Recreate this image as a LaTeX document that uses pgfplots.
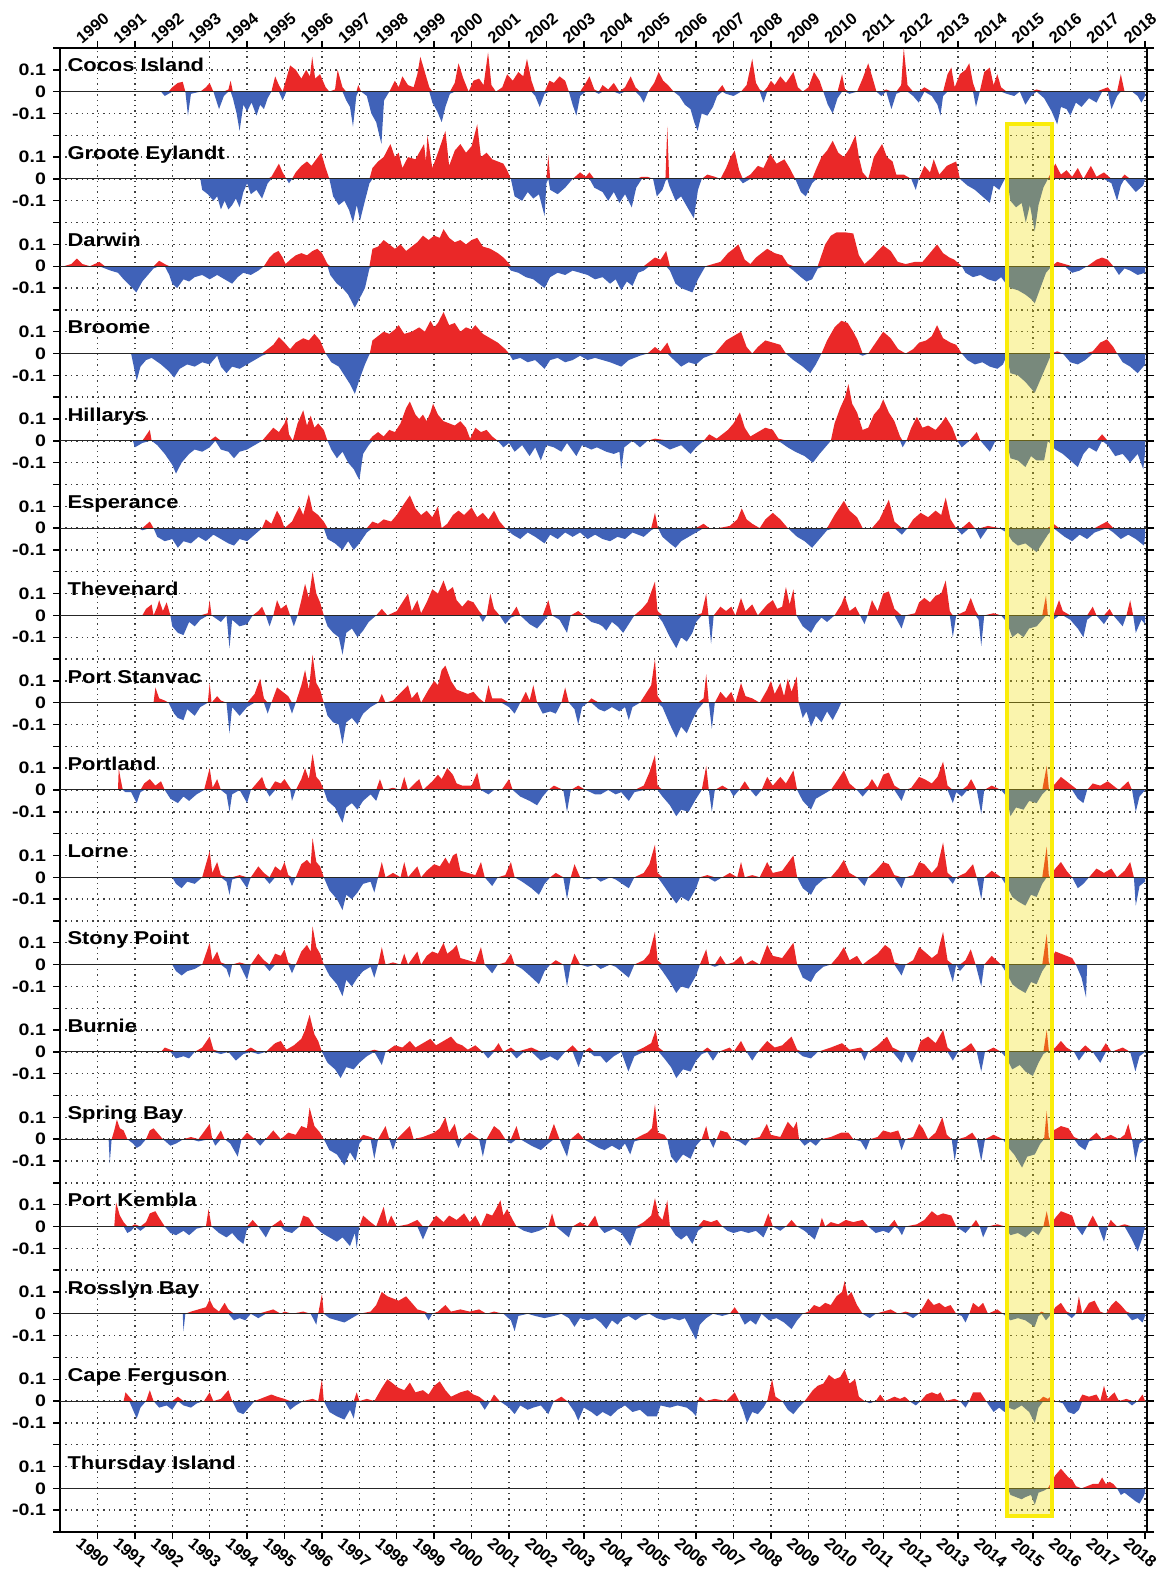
\documentclass[border=0pt]{standalone}
\usepackage{fontspec}
\setmainfont{Liberation Sans}[FakeStretch=1.18]
\newfontfamily\yearfont{Liberation Sans}
\usepackage{pgfplots}
\pgfplotsset{compat=1.18}

\definecolor{sred}{RGB}{234,40,40}
\definecolor{sblue}{RGB}{64,98,184}
\definecolor{boxfill}{RGB}{240,220,0}
\definecolor{boxedge}{RGB}{250,236,10}

% one station: #1 panel index (0 = top), #2 name, #3 name baseline, #4 data
\newcommand{\station}[4]{%
  \addplot[draw=none, fill=sred, yshift={-#1*43.647pt}, y filter/.expression={max(y,0)}] coordinates {#4} \closedcycle;
  \addplot[draw=none, fill=sblue, yshift={-#1*43.647pt}, y filter/.expression={min(y,0)}] coordinates {#4} \closedcycle;
  \addplot[black!85, line width=0.5pt, yshift={-#1*43.647pt}] coordinates {(1989,0) (2018.05,0)};
  \node[anchor=base west, inner sep=0pt, font=\bfseries\fontsize{9.3}{11}\selectfont] at (axis cs:1989.19,#3) {#2};
}

\begin{document}
\begin{tikzpicture}
\useasboundingbox (-30pt,-19pt) rectangle (549.5pt,766pt);
\begin{axis}[
  at={(0,0)}, anchor=south west,
  scale only axis, width=543.5pt, height=742pt,
  xmin=1989, xmax=2018.05, ymin=-6.6, ymax=0.2,
  xtick={1990,1991,...,2018},
  minor x tick num=3,
  ytick={-6.6,-6.5,-6.4,-6.3,-6.2,-6.1,-6.0,-5.9,-5.8,-5.7,-5.6,-5.5,-5.4,-5.3,-5.2,-5.1,-5.0,-4.9,-4.8,-4.7,-4.6,-4.5,-4.4,-4.3,-4.2,-4.1,-4.0,-3.9,-3.8,-3.7,-3.6,-3.5,-3.4,-3.3,-3.2,-3.1,-3.0,-2.9,-2.8,-2.7,-2.6,-2.5,-2.4,-2.3,-2.2,-2.1,-2.0,-1.9,-1.8,-1.7,-1.6,-1.5,-1.4,-1.3,-1.2,-1.1,-1.0,-0.9,-0.8,-0.7,-0.6,-0.5,-0.4,-0.3,-0.2,-0.1,0,0.1,0.2},
  yticklabels={{},-0.1,0,0.1,{},-0.1,0,0.1,{},-0.1,0,0.1,{},-0.1,0,0.1,{},-0.1,0,0.1,{},-0.1,0,0.1,{},-0.1,0,0.1,{},-0.1,0,0.1,{},-0.1,0,0.1,{},-0.1,0,0.1,{},-0.1,0,0.1,{},-0.1,0,0.1,{},-0.1,0,0.1,{},-0.1,0,0.1,{},-0.1,0,0.1,{},-0.1,0,0.1,{},-0.1,0,0.1,{}},
  tick align=outside,
  major tick length=3.5pt, minor tick length=2pt,
  every tick/.style={black, line width=0.7pt},
  axis line style={black, line width=1.2pt},
  xmajorgrids, ymajorgrids,
  major grid style={black!75, line width=0.7pt, dash pattern=on 0.7pt off 2pt},
  /pgf/number format/1000 sep={},
  /pgf/number format/assume math mode=true,
  xticklabel style={font=\yearfont\bfseries\fontsize{8.2}{9}\selectfont, inner sep=0.5pt, anchor=center, xshift=-2.4pt, yshift=-6.8pt, rotate=-40},
  yticklabel style={font=\bfseries\fontsize{8.3}{9}\selectfont},
]
\station{0}{Cocos Island}{0.09}{(1991.7,0)(1991.8,-0.02)(1991.9,-0.01)(1992.0,0.02)(1992.15,0.04)(1992.28,0.045)(1992.35,0.0)(1992.42,-0.11)(1992.5,-0.01)(1992.75,0.0)(1992.9,0.02)(1993.0,0.04)(1993.1,0.0)(1993.25,-0.08)(1993.38,-0.02)(1993.5,0.01)(1993.56,0.05)(1993.62,-0.03)(1993.72,-0.1)(1993.8,-0.18)(1993.9,-0.06)(1994.0,-0.09)(1994.12,-0.05)(1994.25,-0.11)(1994.35,-0.06)(1994.45,-0.08)(1994.55,-0.03)(1994.65,0.0)(1994.75,0.07)(1994.85,0.03)(1994.95,-0.04)(1995.05,0.06)(1995.15,0.12)(1995.3,0.1)(1995.45,0.06)(1995.58,0.1)(1995.68,0.07)(1995.74,0.16)(1995.82,0.06)(1995.95,0.08)(1996.1,0.02)(1996.2,0.0)(1996.35,0.01)(1996.42,0.1)(1996.55,0.02)(1996.65,-0.04)(1996.75,-0.07)(1996.83,-0.16)(1996.92,-0.02)(1996.97,0.03)(1997.05,0.0)(1997.2,-0.02)(1997.32,-0.1)(1997.45,-0.14)(1997.59,-0.24)(1997.66,-0.04)(1997.8,0.0)(1997.95,0.05)(1998.05,0.02)(1998.15,0.07)(1998.3,0.03)(1998.45,0.02)(1998.55,0.08)(1998.63,0.16)(1998.75,0.09)(1998.87,0.02)(1998.95,-0.05)(1999.08,-0.09)(1999.2,-0.14)(1999.3,-0.07)(1999.42,-0.01)(1999.55,0.04)(1999.65,0.13)(1999.78,0.06)(1999.92,0.0)(2000.05,0.05)(2000.2,0.06)(2000.32,0.03)(2000.44,0.18)(2000.53,0.03)(2000.65,0.0)(2000.82,0.02)(2000.95,0.08)(2001.1,0.05)(2001.25,0.09)(2001.38,0.07)(2001.48,0.15)(2001.6,0.05)(2001.7,-0.02)(2001.82,-0.07)(2001.95,-0.01)(2002.08,0.05)(2002.2,0.04)(2002.35,0.07)(2002.5,0.05)(2002.6,0.0)(2002.7,-0.06)(2002.8,-0.11)(2002.9,-0.02)(2003.05,0.04)(2003.15,0.07)(2003.28,0.01)(2003.4,-0.01)(2003.5,0.03)(2003.65,0.01)(2003.8,0.04)(2003.95,-0.01)(2004.1,0.02)(2004.25,0.07)(2004.38,0.02)(2004.5,-0.02)(2004.6,-0.05)(2004.72,0.0)(2004.88,0.04)(2005.0,0.09)(2005.12,0.05)(2005.25,0.03)(2005.4,0.0)(2005.55,-0.02)(2005.7,-0.06)(2005.85,-0.08)(2005.95,-0.14)(2006.04,-0.18)(2006.15,-0.1)(2006.3,-0.11)(2006.45,-0.07)(2006.56,-0.02)(2006.7,0.03)(2006.8,-0.01)(2007.0,-0.02)(2007.2,0.0)(2007.35,0.03)(2007.5,0.15)(2007.6,0.04)(2007.7,0.01)(2007.8,-0.05)(2007.9,0.02)(2008.0,0.05)(2008.1,0.03)(2008.25,0.07)(2008.4,0.04)(2008.6,0.09)(2008.72,0.02)(2008.85,0.0)(2009.0,0.02)(2009.15,0.09)(2009.3,0.05)(2009.4,0.0)(2009.52,-0.06)(2009.65,-0.1)(2009.78,-0.03)(2009.9,0.08)(2009.98,0.01)(2010.1,-0.01)(2010.3,0.0)(2010.45,0.06)(2010.6,0.13)(2010.72,0.06)(2010.82,0.0)(2010.95,-0.02)(2011.08,0.01)(2011.22,-0.08)(2011.35,-0.01)(2011.48,0.03)(2011.55,0.2)(2011.65,0.03)(2011.8,-0.02)(2011.95,-0.05)(2012.1,0.02)(2012.3,-0.02)(2012.45,-0.06)(2012.53,-0.11)(2012.6,-0.02)(2012.72,0.08)(2012.82,0.11)(2012.91,0.02)(2013.05,0.08)(2013.2,0.1)(2013.3,0.13)(2013.4,0.04)(2013.48,-0.07)(2013.58,0.0)(2013.7,0.09)(2013.85,0.11)(2013.95,0.03)(2014.05,0.08)(2014.15,0.02)(2014.3,-0.01)(2014.5,-0.02)(2014.65,0.0)(2014.8,-0.06)(2014.95,-0.02)(2015.1,0.01)(2015.3,-0.03)(2015.5,-0.09)(2015.65,-0.15)(2015.75,-0.07)(2015.9,-0.08)(2016.0,-0.11)(2016.15,-0.05)(2016.3,-0.07)(2016.5,-0.03)(2016.7,-0.05)(2016.85,0.01)(2017.0,0.02)(2017.1,-0.08)(2017.25,-0.02)(2017.35,0.08)(2017.45,0.0)(2017.65,0.0)(2017.8,-0.02)(2017.9,-0.05)(2018.0,-0.02)}
\station{1}{Groote Eylandt}{-0.31}{(1992.75,0)(1992.8,-0.05)(1992.95,-0.07)(1993.1,-0.1)(1993.2,-0.08)(1993.3,-0.14)(1993.4,-0.1)(1993.5,-0.14)(1993.6,-0.12)(1993.7,-0.09)(1993.8,-0.13)(1993.9,-0.06)(1994.0,-0.02)(1994.1,-0.07)(1994.25,-0.05)(1994.4,-0.09)(1994.55,-0.02)(1994.65,0.01)(1994.75,0.04)(1994.85,0.07)(1994.95,0.03)(1995.05,0.0)(1995.12,-0.02)(1995.2,0.0)(1995.3,0.03)(1995.45,0.06)(1995.6,0.08)(1995.72,0.06)(1995.85,0.09)(1995.98,0.12)(1996.1,0.05)(1996.2,0.0)(1996.3,-0.08)(1996.45,-0.12)(1996.6,-0.1)(1996.72,-0.14)(1996.83,-0.2)(1996.93,-0.12)(1997.02,-0.19)(1997.15,-0.1)(1997.27,-0.02)(1997.35,0.05)(1997.5,0.08)(1997.65,0.1)(1997.83,0.16)(1997.95,0.1)(1998.05,0.12)(1998.15,0.05)(1998.3,0.1)(1998.5,0.09)(1998.73,0.16)(1998.78,0.08)(1998.82,0.2)(1998.95,0.05)(1999.1,0.12)(1999.3,0.22)(1999.4,0.06)(1999.55,0.13)(1999.7,0.16)(1999.85,0.12)(2000.0,0.15)(2000.15,0.25)(2000.25,0.1)(2000.4,0.12)(2000.55,0.09)(2000.7,0.08)(2000.85,0.07)(2000.95,0.04)(2001.05,0.0)(2001.15,-0.08)(2001.35,-0.1)(2001.5,-0.06)(2001.65,-0.09)(2001.8,-0.07)(2001.95,-0.17)(2002.0,-0.02)(2002.05,0.11)(2002.1,-0.05)(2002.3,-0.07)(2002.5,-0.04)(2002.7,0.0)(2002.9,0.03)(2003.05,0.01)(2003.15,0.03)(2003.28,-0.04)(2003.5,-0.06)(2003.65,-0.1)(2003.8,-0.06)(2003.95,-0.11)(2004.1,-0.07)(2004.28,-0.13)(2004.4,-0.04)(2004.55,0.01)(2004.7,0.01)(2004.85,0.0)(2004.95,-0.08)(2005.1,-0.05)(2005.18,-0.01)(2005.23,0.24)(2005.28,-0.03)(2005.45,-0.1)(2005.6,-0.08)(2005.8,-0.14)(2005.94,-0.18)(2006.05,-0.05)(2006.15,0.0)(2006.3,0.02)(2006.5,0.01)(2006.65,0.0)(2006.8,0.05)(2006.92,0.1)(2007.03,0.13)(2007.15,0.04)(2007.25,-0.02)(2007.45,0.02)(2007.65,0.06)(2007.8,0.05)(2007.98,0.115)(2008.15,0.07)(2008.36,0.09)(2008.5,0.05)(2008.65,0.0)(2008.8,-0.06)(2008.93,-0.08)(2009.1,-0.02)(2009.22,0.05)(2009.35,0.1)(2009.5,0.13)(2009.65,0.175)(2009.8,0.12)(2009.95,0.1)(2010.1,0.14)(2010.26,0.2)(2010.35,0.1)(2010.45,0.03)(2010.6,0.0)(2010.75,0.1)(2010.97,0.16)(2011.1,0.1)(2011.25,0.08)(2011.35,0.02)(2011.55,0.02)(2011.75,0.0)(2011.87,-0.05)(2011.95,0.0)(2012.1,0.06)(2012.25,0.03)(2012.35,0.09)(2012.5,0.02)(2012.7,0.06)(2012.95,0.08)(2013.05,0.0)(2013.25,-0.03)(2013.45,-0.05)(2013.65,-0.08)(2013.85,-0.11)(2013.95,-0.03)(2014.1,-0.05)(2014.25,0.0)(2014.33,-0.02)(2014.4,-0.1)(2014.55,-0.13)(2014.7,-0.11)(2014.81,-0.2)(2014.92,-0.12)(2015.05,-0.24)(2015.15,-0.12)(2015.28,-0.04)(2015.4,0.0)(2015.6,0.07)(2015.75,0.02)(2015.9,0.04)(2016.05,0.01)(2016.2,0.05)(2016.35,0.0)(2016.55,0.06)(2016.7,0.01)(2016.9,0.03)(2017.1,-0.02)(2017.25,-0.1)(2017.35,-0.03)(2017.45,0.02)(2017.6,-0.03)(2017.75,-0.06)(2017.95,-0.03)(2018.0,0.0)}
\station{2}{Darwin}{-0.71}{(1989.1,0)(1989.3,0.01)(1989.45,0.035)(1989.6,0.01)(1989.8,0.0)(1990.05,0.02)(1990.2,-0.01)(1990.35,-0.02)(1990.55,-0.03)(1990.7,-0.06)(1990.88,-0.09)(1991.04,-0.12)(1991.2,-0.07)(1991.35,-0.04)(1991.5,-0.01)(1991.65,0.025)(1991.8,0.01)(1991.92,-0.04)(1992.0,-0.08)(1992.13,-0.1)(1992.3,-0.06)(1992.45,-0.07)(1992.6,-0.05)(1992.8,-0.04)(1993.0,-0.06)(1993.2,-0.04)(1993.4,-0.06)(1993.6,-0.08)(1993.75,-0.05)(1993.9,-0.03)(1994.1,-0.04)(1994.3,-0.02)(1994.45,0.0)(1994.6,0.04)(1994.72,0.06)(1994.84,0.07)(1994.95,0.04)(1995.03,0.01)(1995.15,0.03)(1995.3,0.05)(1995.45,0.06)(1995.6,0.05)(1995.75,0.07)(1995.88,0.08)(1996.0,0.06)(1996.15,0.01)(1996.22,-0.04)(1996.4,-0.08)(1996.55,-0.1)(1996.7,-0.13)(1996.88,-0.19)(1997.0,-0.15)(1997.15,-0.1)(1997.27,-0.01)(1997.35,0.08)(1997.5,0.09)(1997.65,0.12)(1997.8,0.1)(1997.95,0.08)(1998.1,0.1)(1998.25,0.07)(1998.4,0.09)(1998.55,0.11)(1998.7,0.14)(1998.85,0.12)(1999.0,0.14)(1999.15,0.13)(1999.25,0.17)(1999.4,0.13)(1999.55,0.11)(1999.7,0.12)(1999.85,0.1)(2000.0,0.12)(2000.15,0.13)(2000.3,0.09)(2000.5,0.08)(2000.7,0.06)(2000.85,0.04)(2000.96,0.02)(2001.05,-0.02)(2001.25,-0.03)(2001.45,-0.05)(2001.65,-0.06)(2001.8,-0.08)(2001.95,-0.1)(2002.1,-0.05)(2002.3,-0.03)(2002.5,-0.04)(2002.7,-0.02)(2002.9,-0.03)(2003.1,-0.04)(2003.3,-0.06)(2003.5,-0.05)(2003.7,-0.08)(2003.85,-0.06)(2004.0,-0.11)(2004.15,-0.07)(2004.3,-0.09)(2004.45,-0.03)(2004.6,-0.02)(2004.75,0.02)(2004.9,0.04)(2005.05,0.03)(2005.2,0.07)(2005.3,-0.02)(2005.45,-0.08)(2005.6,-0.1)(2005.75,-0.11)(2005.9,-0.12)(2006.05,-0.06)(2006.25,0.0)(2006.45,0.01)(2006.65,0.02)(2006.85,0.06)(2007.0,0.08)(2007.13,0.1)(2007.3,0.03)(2007.45,0.01)(2007.6,0.04)(2007.9,0.08)(2008.1,0.06)(2008.3,0.05)(2008.45,0.01)(2008.6,-0.02)(2008.8,-0.05)(2008.95,-0.07)(2009.1,-0.06)(2009.25,-0.01)(2009.45,0.1)(2009.6,0.14)(2009.75,0.155)(2010.0,0.155)(2010.2,0.15)(2010.35,0.05)(2010.5,0.01)(2010.7,0.04)(2010.85,0.07)(2011.0,0.095)(2011.2,0.07)(2011.39,0.02)(2011.6,0.01)(2011.85,0.02)(2012.05,0.02)(2012.2,0.05)(2012.44,0.1)(2012.6,0.06)(2012.77,0.04)(2012.9,0.03)(2013.1,0.0)(2013.2,-0.03)(2013.4,-0.05)(2013.6,-0.04)(2013.8,-0.06)(2014.0,-0.07)(2014.15,-0.05)(2014.28,-0.08)(2014.4,-0.1)(2014.6,-0.11)(2014.8,-0.13)(2014.95,-0.15)(2015.05,-0.17)(2015.2,-0.1)(2015.35,-0.03)(2015.5,0.0)(2015.65,0.02)(2015.85,0.01)(2016.05,-0.03)(2016.25,-0.02)(2016.45,0.0)(2016.7,0.03)(2016.85,0.04)(2017.0,0.03)(2017.15,0.0)(2017.3,-0.04)(2017.45,-0.01)(2017.6,-0.02)(2017.8,-0.04)(2018.0,-0.03)}
\station{3}{Broome}{-1.11}{(1990.9,0)(1991.05,-0.125)(1991.15,-0.06)(1991.3,-0.03)(1991.45,-0.02)(1991.7,-0.05)(1991.9,-0.08)(1992.05,-0.11)(1992.2,-0.07)(1992.4,-0.05)(1992.6,-0.06)(1992.8,-0.04)(1993.0,-0.05)(1993.2,-0.01)(1993.3,-0.06)(1993.45,-0.09)(1993.6,-0.06)(1993.8,-0.07)(1994.0,-0.05)(1994.2,-0.03)(1994.4,-0.01)(1994.55,0.02)(1994.7,0.04)(1994.85,0.075)(1995.0,0.05)(1995.15,0.02)(1995.3,0.05)(1995.5,0.07)(1995.65,0.06)(1995.8,0.09)(1995.95,0.06)(1996.1,0.0)(1996.25,-0.04)(1996.45,-0.06)(1996.6,-0.1)(1996.75,-0.14)(1996.88,-0.185)(1997.0,-0.12)(1997.15,-0.05)(1997.28,0.0)(1997.35,0.06)(1997.5,0.08)(1997.65,0.1)(1997.8,0.09)(1997.95,0.11)(1998.05,0.13)(1998.2,0.09)(1998.4,0.1)(1998.6,0.12)(1998.75,0.1)(1998.9,0.15)(1999.0,0.12)(1999.1,0.14)(1999.25,0.19)(1999.4,0.13)(1999.55,0.14)(1999.7,0.1)(1999.85,0.12)(2000.0,0.11)(2000.1,0.13)(2000.3,0.09)(2000.5,0.07)(2000.7,0.05)(2000.9,0.02)(2001.0,0.0)(2001.1,-0.03)(2001.3,-0.02)(2001.5,-0.04)(2001.7,-0.03)(2001.95,-0.07)(2002.1,-0.03)(2002.3,-0.02)(2002.5,-0.04)(2002.7,-0.03)(2002.9,-0.01)(2003.1,-0.03)(2003.3,-0.02)(2003.5,-0.03)(2003.7,-0.04)(2004.0,-0.06)(2004.2,-0.03)(2004.5,-0.01)(2004.7,0.0)(2004.9,0.03)(2005.05,0.01)(2005.23,0.05)(2005.35,-0.02)(2005.6,-0.06)(2005.8,-0.04)(2006.0,-0.05)(2006.2,-0.02)(2006.5,0.0)(2006.8,0.06)(2007.0,0.08)(2007.2,0.1)(2007.35,0.03)(2007.5,0.0)(2007.65,0.03)(2007.85,0.06)(2008.05,0.05)(2008.25,0.04)(2008.4,0.0)(2008.6,-0.03)(2008.85,-0.06)(2009.05,-0.09)(2009.2,-0.05)(2009.35,0.0)(2009.5,0.06)(2009.7,0.12)(2009.88,0.15)(2010.05,0.14)(2010.2,0.1)(2010.32,0.06)(2010.45,-0.01)(2010.6,0.0)(2010.8,0.05)(2011.0,0.1)(2011.2,0.07)(2011.4,0.02)(2011.6,0.0)(2011.8,0.02)(2011.96,0.05)(2012.15,0.06)(2012.3,0.08)(2012.44,0.13)(2012.6,0.07)(2012.8,0.05)(2012.95,0.04)(2013.1,0.0)(2013.25,-0.03)(2013.45,-0.05)(2013.65,-0.04)(2013.85,-0.06)(2014.05,-0.07)(2014.2,-0.05)(2014.3,-0.01)(2014.4,-0.09)(2014.6,-0.1)(2014.8,-0.13)(2015.05,-0.18)(2015.2,-0.12)(2015.35,-0.06)(2015.5,0.0)(2015.65,0.01)(2015.8,0.0)(2016.0,-0.04)(2016.2,-0.05)(2016.4,-0.03)(2016.6,0.01)(2016.8,0.05)(2016.98,0.065)(2017.15,0.03)(2017.25,0.0)(2017.4,-0.04)(2017.6,-0.06)(2017.8,-0.09)(2018.0,-0.05)}
\station{4}{Hillarys}{-1.51}{(1990.95,0)(1991.0,-0.03)(1991.2,-0.01)(1991.4,0.05)(1991.45,0.0)(1991.6,-0.02)(1991.8,-0.06)(1992.0,-0.11)(1992.1,-0.15)(1992.25,-0.1)(1992.45,-0.06)(1992.6,-0.04)(1992.8,-0.05)(1993.0,-0.03)(1993.15,0.02)(1993.3,-0.04)(1993.5,-0.05)(1993.65,-0.08)(1993.8,-0.05)(1994.0,-0.04)(1994.2,-0.02)(1994.4,0.0)(1994.55,0.03)(1994.7,0.06)(1994.85,0.04)(1995.0,0.08)(1995.06,0.11)(1995.12,0.03)(1995.22,0.0)(1995.35,0.08)(1995.5,0.14)(1995.6,0.07)(1995.7,0.115)(1995.8,0.06)(1995.9,0.08)(1996.05,0.05)(1996.15,0.0)(1996.25,-0.04)(1996.4,-0.08)(1996.55,-0.05)(1996.7,-0.1)(1996.85,-0.13)(1997.0,-0.18)(1997.1,-0.06)(1997.25,-0.02)(1997.35,0.02)(1997.5,0.04)(1997.65,0.02)(1997.8,0.05)(1997.95,0.04)(1998.1,0.08)(1998.25,0.15)(1998.35,0.18)(1998.5,0.12)(1998.6,0.1)(1998.7,0.12)(1998.8,0.09)(1998.9,0.13)(1998.97,0.17)(1999.1,0.12)(1999.25,0.09)(1999.4,0.08)(1999.55,0.07)(1999.7,0.09)(1999.85,0.06)(1999.96,0.01)(2000.1,0.06)(2000.25,0.04)(2000.4,0.05)(2000.55,0.02)(2000.7,0.0)(2000.85,-0.03)(2001.0,-0.01)(2001.15,-0.05)(2001.35,-0.02)(2001.55,-0.07)(2001.7,-0.03)(2001.85,-0.09)(2002.0,-0.02)(2002.2,-0.03)(2002.4,-0.05)(2002.55,-0.01)(2002.8,-0.07)(2002.95,-0.02)(2003.2,-0.04)(2003.35,-0.03)(2003.6,-0.05)(2003.8,-0.06)(2003.95,-0.05)(2004.0,-0.13)(2004.08,-0.03)(2004.3,0.0)(2004.5,-0.03)(2004.7,0.0)(2004.9,0.01)(2005.3,-0.04)(2005.6,-0.02)(2005.85,-0.06)(2006.0,-0.03)(2006.2,0.0)(2006.35,0.03)(2006.55,0.01)(2006.85,0.05)(2007.0,0.08)(2007.17,0.13)(2007.3,0.06)(2007.45,0.02)(2007.65,0.04)(2007.85,0.06)(2008.05,0.05)(2008.2,0.01)(2008.45,-0.03)(2008.65,-0.05)(2008.9,-0.07)(2009.12,-0.1)(2009.3,-0.06)(2009.5,-0.02)(2009.6,0.0)(2009.7,0.08)(2009.85,0.15)(2009.98,0.2)(2010.07,0.26)(2010.17,0.17)(2010.3,0.13)(2010.45,0.05)(2010.6,0.06)(2010.75,0.12)(2010.9,0.15)(2011.0,0.19)(2011.15,0.13)(2011.3,0.09)(2011.45,0.02)(2011.52,-0.03)(2011.62,0.0)(2011.75,0.06)(2011.9,0.11)(2012.05,0.06)(2012.2,0.07)(2012.4,0.05)(2012.55,0.08)(2012.67,0.11)(2012.85,0.06)(2012.98,0.0)(2013.1,-0.03)(2013.3,0.0)(2013.5,0.04)(2013.6,0.0)(2013.85,-0.05)(2014.0,0.0)(2014.3,0.0)(2014.4,-0.08)(2014.6,-0.09)(2014.8,-0.12)(2014.95,-0.07)(2015.1,-0.09)(2015.3,-0.09)(2015.4,0.0)(2015.6,-0.04)(2015.8,-0.06)(2016.0,-0.09)(2016.2,-0.12)(2016.35,-0.06)(2016.5,-0.03)(2016.7,-0.05)(2016.85,0.03)(2017.0,-0.02)(2017.2,-0.07)(2017.4,-0.06)(2017.6,-0.1)(2017.8,-0.06)(2017.95,-0.13)(2018.0,-0.05)}
\station{5}{Esperance}{-1.91}{(1991.1,0)(1991.2,-0.01)(1991.4,0.03)(1991.5,0.0)(1991.6,-0.04)(1991.8,-0.06)(1992.0,-0.05)(1992.15,-0.09)(1992.3,-0.06)(1992.5,-0.07)(1992.7,-0.04)(1992.9,-0.06)(1993.1,-0.03)(1993.3,-0.05)(1993.5,-0.07)(1993.65,-0.08)(1993.8,-0.05)(1994.0,-0.06)(1994.2,-0.03)(1994.4,0.0)(1994.5,0.04)(1994.65,0.02)(1994.8,0.08)(1994.9,0.05)(1995.0,0.0)(1995.2,0.03)(1995.4,0.1)(1995.5,0.06)(1995.65,0.155)(1995.75,0.08)(1995.9,0.06)(1996.05,0.03)(1996.15,-0.05)(1996.35,-0.07)(1996.55,-0.1)(1996.7,-0.06)(1996.85,-0.1)(1997.0,-0.07)(1997.2,-0.02)(1997.35,0.03)(1997.5,0.02)(1997.65,0.04)(1997.85,0.03)(1998.0,0.06)(1998.15,0.1)(1998.35,0.15)(1998.5,0.09)(1998.65,0.06)(1998.8,0.08)(1998.95,0.05)(1999.1,0.1)(1999.2,0.0)(1999.35,0.02)(1999.5,0.06)(1999.65,0.08)(1999.8,0.06)(2000.0,0.095)(2000.15,0.05)(2000.3,0.07)(2000.45,0.04)(2000.6,0.08)(2000.75,0.03)(2000.9,0.0)(2001.1,-0.03)(2001.3,-0.05)(2001.5,-0.02)(2001.7,-0.04)(2001.95,-0.07)(2002.1,-0.03)(2002.3,-0.05)(2002.5,-0.02)(2002.7,-0.04)(2002.9,-0.02)(2003.1,-0.05)(2003.3,-0.03)(2003.5,-0.05)(2003.7,-0.06)(2003.9,-0.04)(2004.1,-0.05)(2004.3,-0.02)(2004.6,-0.04)(2004.8,-0.01)(2004.9,0.07)(2004.98,0.0)(2005.1,-0.04)(2005.3,-0.07)(2005.45,-0.09)(2005.6,-0.06)(2005.8,-0.04)(2006.0,-0.02)(2006.2,0.02)(2006.35,0.0)(2006.6,0.0)(2006.9,0.01)(2007.1,0.04)(2007.22,0.09)(2007.35,0.04)(2007.5,0.02)(2007.7,0.0)(2007.85,0.04)(2008.05,0.07)(2008.25,0.04)(2008.45,0.0)(2008.7,-0.04)(2008.9,-0.06)(2009.1,-0.09)(2009.3,-0.05)(2009.5,-0.01)(2009.7,0.06)(2009.95,0.125)(2010.1,0.08)(2010.3,0.05)(2010.45,0.0)(2010.7,0.0)(2010.9,0.04)(2011.15,0.13)(2011.3,0.03)(2011.5,-0.03)(2011.65,0.0)(2011.8,0.04)(2012.0,0.07)(2012.2,0.05)(2012.4,0.08)(2012.55,0.06)(2012.67,0.14)(2012.8,0.04)(2012.95,0.0)(2013.1,-0.03)(2013.3,0.03)(2013.45,0.0)(2013.6,-0.05)(2013.8,0.01)(2014.1,0.0)(2014.3,-0.02)(2014.45,-0.06)(2014.6,-0.08)(2014.8,-0.07)(2015.1,-0.11)(2015.25,-0.07)(2015.4,-0.03)(2015.55,0.02)(2015.7,-0.02)(2015.85,-0.04)(2016.05,-0.06)(2016.25,-0.03)(2016.45,-0.05)(2016.65,-0.02)(2016.98,0.03)(2017.15,-0.02)(2017.35,-0.05)(2017.55,-0.03)(2017.75,-0.05)(2017.97,-0.08)(2018.0,-0.03)}
\station{6}{Thevenard}{-2.31}{(1991.2,0)(1991.3,0.03)(1991.45,0.05)(1991.5,0.0)(1991.6,0.04)(1991.65,0.07)(1991.75,0.02)(1991.85,0.06)(1991.95,0.0)(1992.0,-0.05)(1992.15,-0.08)(1992.3,-0.09)(1992.45,-0.03)(1992.6,-0.05)(1992.75,-0.02)(1992.95,0.01)(1993.0,0.07)(1993.05,0.0)(1993.3,-0.03)(1993.45,0.0)(1993.53,-0.15)(1993.6,-0.02)(1993.8,-0.05)(1994.0,-0.04)(1994.15,0.0)(1994.3,0.02)(1994.4,0.04)(1994.5,0.0)(1994.6,-0.05)(1994.7,0.0)(1994.8,0.07)(1994.9,0.03)(1995.05,0.05)(1995.15,0.0)(1995.25,-0.05)(1995.35,0.0)(1995.45,0.07)(1995.55,0.145)(1995.65,0.08)(1995.75,0.2)(1995.85,0.1)(1995.95,0.06)(1996.05,0.0)(1996.15,-0.05)(1996.3,-0.08)(1996.45,-0.1)(1996.55,-0.18)(1996.65,-0.08)(1996.8,-0.06)(1996.95,-0.1)(1997.1,-0.07)(1997.25,-0.03)(1997.45,0.0)(1997.6,0.03)(1997.75,0.0)(1998.0,0.02)(1998.3,0.1)(1998.4,0.02)(1998.55,0.07)(1998.65,0.01)(1998.8,0.06)(1998.95,0.12)(1999.1,0.1)(1999.25,0.16)(1999.35,0.11)(1999.5,0.13)(1999.6,0.07)(1999.75,0.04)(1999.9,0.07)(2000.05,0.06)(2000.2,0.02)(2000.3,-0.03)(2000.4,0.0)(2000.5,0.1)(2000.6,0.03)(2000.75,0.0)(2000.9,-0.04)(2001.05,-0.01)(2001.2,0.04)(2001.3,0.0)(2001.55,-0.04)(2001.75,-0.06)(2001.9,-0.03)(2002.05,0.07)(2002.15,0.0)(2002.35,-0.02)(2002.55,-0.08)(2002.65,0.0)(2002.85,0.02)(2003.0,0.0)(2003.2,-0.03)(2003.4,-0.04)(2003.5,-0.05)(2003.6,-0.07)(2003.75,-0.03)(2003.9,-0.05)(2004.05,-0.08)(2004.2,-0.04)(2004.35,0.0)(2004.55,0.03)(2004.7,0.06)(2004.9,0.155)(2004.97,0.02)(2005.1,-0.03)(2005.3,-0.1)(2005.47,-0.15)(2005.6,-0.1)(2005.75,-0.12)(2005.9,-0.08)(2006.0,-0.03)(2006.15,0.01)(2006.27,0.1)(2006.33,0.0)(2006.4,-0.13)(2006.47,0.0)(2006.65,0.04)(2006.8,0.02)(2006.94,0.04)(2007.05,0.0)(2007.2,0.08)(2007.32,0.02)(2007.5,0.05)(2007.65,0.0)(2007.9,0.05)(2008.05,0.07)(2008.17,0.03)(2008.3,0.04)(2008.4,0.13)(2008.5,0.05)(2008.6,0.12)(2008.68,0.0)(2008.85,-0.05)(2009.07,-0.08)(2009.2,-0.04)(2009.35,-0.01)(2009.5,-0.03)(2009.7,0.0)(2009.88,0.05)(2009.97,0.09)(2010.1,0.02)(2010.26,0.04)(2010.38,0.0)(2010.5,-0.04)(2010.58,0.0)(2010.7,0.07)(2010.85,0.02)(2011.0,0.1)(2011.15,0.11)(2011.3,0.03)(2011.49,-0.06)(2011.6,0.0)(2011.85,0.01)(2011.96,0.06)(2012.1,0.08)(2012.25,0.06)(2012.4,0.09)(2012.55,0.1)(2012.67,0.16)(2012.78,0.02)(2012.86,-0.1)(2012.95,0.0)(2013.2,0.02)(2013.34,0.08)(2013.47,0.02)(2013.55,-0.02)(2013.62,-0.14)(2013.7,0.0)(2013.95,0.01)(2014.15,0.0)(2014.3,-0.03)(2014.45,-0.1)(2014.6,-0.08)(2014.75,-0.1)(2014.9,-0.06)(2015.1,-0.05)(2015.25,-0.02)(2015.35,0.09)(2015.4,0.0)(2015.55,-0.02)(2015.7,0.07)(2015.8,0.02)(2016.0,-0.02)(2016.2,-0.06)(2016.35,-0.1)(2016.45,-0.02)(2016.6,0.04)(2016.7,0.0)(2016.9,-0.04)(2017.05,0.03)(2017.15,0.0)(2017.4,-0.05)(2017.5,0.0)(2017.6,0.07)(2017.68,0.0)(2017.75,-0.08)(2017.9,-0.02)(2018.0,-0.04)}
\station{7}{Port Stanvac}{-2.71}{(1991.5,0)(1991.55,0.07)(1991.65,0.02)(1991.8,0.01)(1991.9,0.0)(1992.05,-0.05)(1992.15,-0.07)(1992.3,-0.08)(1992.4,-0.03)(1992.6,-0.06)(1992.75,-0.02)(1992.95,0.0)(1993.0,0.09)(1993.05,0.0)(1993.2,0.03)(1993.3,0.01)(1993.45,0.0)(1993.53,-0.14)(1993.6,-0.02)(1993.8,-0.06)(1994.0,-0.02)(1994.2,0.04)(1994.35,0.11)(1994.45,0.02)(1994.55,-0.05)(1994.65,0.0)(1994.8,0.07)(1994.95,0.05)(1995.1,0.03)(1995.2,-0.05)(1995.3,0.0)(1995.45,0.08)(1995.55,0.15)(1995.65,0.06)(1995.75,0.22)(1995.85,0.09)(1995.95,0.06)(1996.05,0.0)(1996.15,-0.06)(1996.3,-0.09)(1996.45,-0.1)(1996.55,-0.19)(1996.65,-0.09)(1996.8,-0.07)(1996.95,-0.1)(1997.1,-0.05)(1997.3,-0.02)(1997.5,0.0)(1997.6,0.04)(1997.7,0.0)(1997.9,0.01)(1998.3,0.08)(1998.4,0.02)(1998.55,0.05)(1998.65,0.0)(1998.85,0.06)(1999.0,0.1)(1999.1,0.08)(1999.2,0.15)(1999.3,0.17)(1999.45,0.1)(1999.6,0.06)(1999.75,0.05)(1999.9,0.04)(2000.05,0.05)(2000.2,0.02)(2000.35,0.0)(2000.45,0.08)(2000.55,0.02)(2000.8,0.02)(2001.0,-0.02)(2001.15,-0.05)(2001.3,0.0)(2001.45,0.05)(2001.55,0.01)(2001.65,0.08)(2001.75,0.0)(2001.9,-0.05)(2002.1,-0.04)(2002.25,-0.05)(2002.4,0.0)(2002.5,0.07)(2002.6,0.0)(2002.75,-0.03)(2002.85,-0.1)(2002.95,-0.02)(2003.1,0.0)(2003.2,0.02)(2003.4,-0.03)(2003.55,-0.04)(2003.75,-0.02)(2003.95,-0.04)(2004.1,-0.02)(2004.2,-0.08)(2004.3,-0.02)(2004.5,0.0)(2004.65,0.04)(2004.8,0.08)(2004.9,0.2)(2004.97,0.03)(2005.1,-0.02)(2005.3,-0.1)(2005.47,-0.16)(2005.6,-0.11)(2005.75,-0.14)(2005.9,-0.08)(2006.05,-0.03)(2006.2,0.02)(2006.27,0.13)(2006.34,0.0)(2006.42,-0.12)(2006.5,0.0)(2006.65,0.05)(2006.8,0.02)(2006.94,0.05)(2007.05,0.0)(2007.2,0.09)(2007.32,0.03)(2007.5,0.02)(2007.7,0.0)(2007.9,0.06)(2008.0,0.1)(2008.1,0.04)(2008.25,0.09)(2008.35,0.03)(2008.45,0.11)(2008.55,0.05)(2008.69,0.12)(2008.74,0.0)(2008.85,-0.07)(2008.95,-0.04)(2009.07,-0.11)(2009.2,-0.06)(2009.35,-0.09)(2009.5,-0.04)(2009.65,-0.08)(2009.8,-0.03)(2009.88,0.0)}
\station{8}{Portland}{-3.11}{(1990.55,0.0)(1990.57,0.1)(1990.62,0.05)(1990.68,0.0)(1990.75,-0.01)(1990.9,-0.01)(1991.05,-0.06)(1991.15,-0.01)(1991.25,0.03)(1991.4,0.05)(1991.55,0.02)(1991.7,0.04)(1991.8,0.0)(1991.95,-0.04)(1992.15,-0.06)(1992.3,-0.03)(1992.45,-0.05)(1992.65,-0.02)(1992.85,0.0)(1993.0,0.1)(1993.08,0.01)(1993.2,0.05)(1993.3,0.0)(1993.45,-0.02)(1993.53,-0.1)(1993.6,-0.02)(1993.8,0.0)(1994.0,-0.06)(1994.1,0.0)(1994.25,0.03)(1994.4,0.06)(1994.5,0.01)(1994.6,-0.03)(1994.75,0.04)(1994.9,0.03)(1995.0,0.05)(1995.15,0.01)(1995.2,-0.05)(1995.3,0.0)(1995.45,0.05)(1995.55,0.1)(1995.65,0.05)(1995.75,0.165)(1995.85,0.06)(1995.95,0.04)(1996.05,0.0)(1996.15,-0.05)(1996.35,-0.08)(1996.55,-0.15)(1996.65,-0.08)(1996.8,-0.06)(1996.95,-0.09)(1997.1,-0.05)(1997.3,-0.02)(1997.45,-0.05)(1997.55,0.05)(1997.65,0.0)(1997.9,0.01)(1998.1,0.0)(1998.2,0.06)(1998.3,0.0)(1998.6,0.05)(1998.7,0.0)(1998.95,0.04)(1999.1,0.07)(1999.2,0.05)(1999.35,0.1)(1999.5,0.07)(1999.6,0.03)(1999.75,0.02)(2000.0,0.02)(2000.15,0.08)(2000.25,0.0)(2000.45,-0.02)(2000.6,0.0)(2000.8,0.0)(2001.0,0.05)(2001.1,0.0)(2001.3,-0.03)(2001.55,-0.05)(2001.75,-0.07)(2001.9,-0.03)(2002.05,0.0)(2002.2,0.02)(2002.45,0.0)(2002.55,-0.1)(2002.65,0.0)(2002.85,0.02)(2003.05,0.0)(2003.3,-0.02)(2003.45,-0.02)(2003.65,0.0)(2003.85,-0.02)(2004.0,-0.01)(2004.2,-0.05)(2004.35,-0.01)(2004.6,0.02)(2004.75,0.08)(2004.9,0.16)(2004.97,0.02)(2005.1,-0.03)(2005.3,-0.07)(2005.47,-0.12)(2005.6,-0.09)(2005.8,-0.1)(2006.0,-0.04)(2006.15,0.0)(2006.27,0.11)(2006.34,0.0)(2006.42,-0.1)(2006.5,0.0)(2006.7,0.02)(2006.9,0.0)(2007.0,-0.03)(2007.15,0.0)(2007.3,0.04)(2007.45,0.0)(2007.6,-0.03)(2007.75,0.0)(2007.9,0.06)(2008.05,0.02)(2008.25,0.06)(2008.4,0.03)(2008.6,0.09)(2008.7,0.0)(2008.85,-0.05)(2009.07,-0.09)(2009.2,-0.04)(2009.4,-0.02)(2009.6,0.0)(2009.8,0.05)(2009.95,0.09)(2010.1,0.03)(2010.3,0.0)(2010.45,-0.03)(2010.6,0.02)(2010.7,0.05)(2010.85,0.01)(2011.0,0.07)(2011.15,0.08)(2011.3,0.02)(2011.49,-0.05)(2011.6,0.0)(2011.75,0.01)(2011.96,0.06)(2012.1,0.05)(2012.3,0.03)(2012.45,0.06)(2012.6,0.13)(2012.72,0.02)(2012.86,-0.06)(2012.95,-0.01)(2013.1,-0.03)(2013.25,0.02)(2013.35,0.05)(2013.5,0.0)(2013.62,-0.11)(2013.7,0.0)(2013.9,0.02)(2014.15,0.0)(2014.3,-0.03)(2014.4,-0.12)(2014.55,-0.08)(2014.75,-0.09)(2014.9,-0.05)(2015.1,-0.06)(2015.25,-0.02)(2015.37,0.11)(2015.43,0.0)(2015.6,0.03)(2015.75,0.06)(2015.9,0.04)(2016.05,0.02)(2016.2,-0.04)(2016.35,-0.06)(2016.45,0.0)(2016.6,0.03)(2016.8,0.02)(2017.0,0.04)(2017.15,0.02)(2017.3,0.0)(2017.55,0.04)(2017.65,0.0)(2017.75,-0.1)(2017.85,-0.03)(2018.0,0.0)}
\station{9}{Lorne}{-3.51}{(1992.0,0)(1992.1,-0.03)(1992.25,-0.05)(1992.4,-0.02)(1992.6,-0.03)(1992.8,0.0)(1993.0,0.12)(1993.07,0.02)(1993.2,0.07)(1993.3,0.01)(1993.45,-0.02)(1993.53,-0.08)(1993.6,-0.01)(1993.8,0.01)(1994.0,-0.05)(1994.1,0.0)(1994.3,0.05)(1994.45,0.02)(1994.6,-0.03)(1994.75,0.05)(1994.9,0.03)(1995.0,0.07)(1995.1,0.01)(1995.2,-0.04)(1995.3,0.0)(1995.45,0.06)(1995.6,0.08)(1995.7,0.06)(1995.75,0.18)(1995.85,0.07)(1995.95,0.05)(1996.05,0.0)(1996.2,-0.06)(1996.4,-0.1)(1996.55,-0.15)(1996.65,-0.08)(1996.8,-0.1)(1996.95,-0.07)(1997.1,-0.03)(1997.3,-0.02)(1997.4,-0.07)(1997.5,0.0)(1997.6,0.07)(1997.7,0.0)(1997.9,0.02)(1998.1,0.0)(1998.2,0.07)(1998.3,0.0)(1998.55,0.05)(1998.65,0.0)(1998.8,0.03)(1999.0,0.06)(1999.15,0.05)(1999.3,0.09)(1999.4,0.06)(1999.5,0.1)(1999.6,0.11)(1999.7,0.03)(1999.9,0.02)(2000.1,0.01)(2000.25,0.07)(2000.35,0.0)(2000.55,-0.04)(2000.7,0.0)(2000.9,0.01)(2001.05,0.07)(2001.15,0.0)(2001.35,-0.02)(2001.6,-0.05)(2001.8,-0.08)(2001.95,-0.03)(2002.1,0.0)(2002.25,0.02)(2002.45,0.0)(2002.55,-0.1)(2002.65,0.0)(2002.75,0.06)(2002.9,0.0)(2003.1,-0.01)(2003.3,0.0)(2003.45,-0.02)(2003.7,0.0)(2003.85,-0.01)(2004.2,-0.05)(2004.35,0.0)(2004.6,0.02)(2004.75,0.06)(2004.9,0.15)(2004.97,0.02)(2005.1,-0.03)(2005.3,-0.08)(2005.47,-0.12)(2005.6,-0.09)(2005.8,-0.11)(2006.0,-0.05)(2006.1,0.0)(2006.3,0.01)(2006.5,-0.02)(2006.7,0.0)(2006.9,0.02)(2007.1,0.0)(2007.2,0.07)(2007.3,0.0)(2007.5,0.01)(2007.7,0.0)(2007.9,0.07)(2008.05,0.02)(2008.3,0.03)(2008.6,0.1)(2008.7,0.0)(2008.85,-0.05)(2009.07,-0.08)(2009.2,-0.04)(2009.4,-0.01)(2009.6,0.0)(2009.8,0.04)(2009.95,0.08)(2010.1,0.02)(2010.3,0.0)(2010.5,-0.04)(2010.6,0.0)(2010.8,0.03)(2011.0,0.07)(2011.15,0.06)(2011.3,0.01)(2011.49,-0.05)(2011.6,0.0)(2011.8,0.01)(2011.96,0.07)(2012.1,0.06)(2012.3,0.02)(2012.45,0.05)(2012.6,0.16)(2012.72,0.02)(2012.86,-0.03)(2012.95,0.0)(2013.2,0.02)(2013.4,0.06)(2013.5,0.0)(2013.62,-0.1)(2013.7,0.0)(2013.9,0.03)(2014.15,0.0)(2014.3,-0.04)(2014.45,-0.09)(2014.6,-0.11)(2014.8,-0.13)(2014.95,-0.08)(2015.1,-0.09)(2015.25,-0.03)(2015.37,0.14)(2015.43,0.0)(2015.6,0.04)(2015.75,0.07)(2015.9,0.03)(2016.05,0.0)(2016.2,-0.05)(2016.35,-0.03)(2016.5,0.0)(2016.7,0.04)(2016.9,0.02)(2017.1,0.04)(2017.25,0.0)(2017.45,0.03)(2017.6,0.07)(2017.7,0.0)(2017.75,-0.13)(2017.85,-0.04)(2018.0,-0.02)}
\station{10}{Stony Point}{-3.91}{(1992.0,0)(1992.1,-0.03)(1992.25,-0.05)(1992.4,-0.03)(1992.6,-0.02)(1992.8,0.0)(1993.0,0.1)(1993.07,0.02)(1993.2,0.06)(1993.3,0.01)(1993.45,-0.02)(1993.53,-0.06)(1993.6,0.0)(1993.8,0.01)(1994.0,-0.07)(1994.1,0.0)(1994.3,0.05)(1994.45,0.02)(1994.6,-0.03)(1994.75,0.05)(1994.9,0.04)(1995.0,0.07)(1995.1,0.01)(1995.2,-0.04)(1995.3,0.0)(1995.45,0.06)(1995.6,0.09)(1995.7,0.06)(1995.75,0.175)(1995.85,0.08)(1995.95,0.05)(1996.05,0.0)(1996.2,-0.05)(1996.4,-0.09)(1996.55,-0.145)(1996.65,-0.07)(1996.8,-0.1)(1996.95,-0.06)(1997.1,-0.03)(1997.3,-0.01)(1997.4,-0.06)(1997.5,0.0)(1997.6,0.08)(1997.7,0.0)(1997.9,0.01)(1998.1,0.0)(1998.2,0.05)(1998.3,0.0)(1998.55,0.06)(1998.65,0.0)(1998.8,0.04)(1998.95,0.06)(1999.1,0.05)(1999.25,0.1)(1999.35,0.05)(1999.5,0.07)(1999.6,0.09)(1999.7,0.03)(1999.9,0.02)(2000.1,0.01)(2000.25,0.08)(2000.35,0.0)(2000.55,-0.04)(2000.7,0.0)(2000.9,0.01)(2001.05,0.05)(2001.15,0.0)(2001.35,-0.02)(2001.55,-0.05)(2001.8,-0.09)(2001.95,-0.03)(2002.1,0.0)(2002.25,0.02)(2002.45,0.0)(2002.55,-0.1)(2002.65,0.0)(2002.75,0.05)(2002.9,0.0)(2003.1,-0.01)(2003.3,0.0)(2003.45,-0.02)(2003.7,0.0)(2003.85,-0.01)(2004.2,-0.06)(2004.35,0.0)(2004.6,0.02)(2004.75,0.05)(2004.9,0.15)(2004.97,0.02)(2005.1,-0.03)(2005.3,-0.08)(2005.47,-0.13)(2005.6,-0.1)(2005.8,-0.11)(2006.0,-0.05)(2006.1,0.0)(2006.27,0.07)(2006.35,0.0)(2006.5,-0.01)(2006.65,0.04)(2006.8,0.0)(2007.0,0.01)(2007.2,0.04)(2007.3,0.0)(2007.5,0.02)(2007.7,0.0)(2007.9,0.09)(2008.05,0.04)(2008.3,0.03)(2008.6,0.1)(2008.7,0.0)(2008.85,-0.06)(2009.07,-0.08)(2009.2,-0.04)(2009.4,-0.01)(2009.6,0.0)(2009.8,0.04)(2009.95,0.08)(2010.1,0.02)(2010.3,0.04)(2010.45,0.0)(2010.6,0.02)(2010.85,0.05)(2011.05,0.09)(2011.2,0.07)(2011.3,0.01)(2011.49,-0.05)(2011.6,0.0)(2011.8,0.02)(2011.96,0.08)(2012.1,0.06)(2012.3,0.03)(2012.45,0.05)(2012.6,0.15)(2012.72,0.02)(2012.86,-0.08)(2012.95,0.0)(2013.05,-0.03)(2013.2,0.02)(2013.34,0.07)(2013.47,0.0)(2013.62,-0.1)(2013.7,0.0)(2013.9,0.04)(2014.15,0.0)(2014.3,-0.04)(2014.45,-0.09)(2014.6,-0.11)(2014.8,-0.13)(2014.95,-0.08)(2015.1,-0.09)(2015.25,-0.03)(2015.37,0.14)(2015.43,0.0)(2015.6,0.06)(2015.75,0.05)(2015.9,0.04)(2016.05,0.03)(2016.15,0.0)(2016.3,-0.06)(2016.42,-0.15)(2016.45,0.0)}
\station{11}{Burnie}{-4.31}{(1991.7,0)(1991.8,0.02)(1991.95,0.01)(1992.1,-0.03)(1992.3,-0.02)(1992.45,-0.03)(1992.6,0.0)(1992.8,0.02)(1993.0,0.07)(1993.1,0.01)(1993.3,-0.01)(1993.5,0.0)(1993.7,-0.04)(1993.9,-0.01)(1994.1,0.02)(1994.3,-0.01)(1994.5,0.0)(1994.75,0.04)(1994.9,0.05)(1995.05,0.01)(1995.25,0.03)(1995.45,0.06)(1995.55,0.1)(1995.67,0.17)(1995.8,0.08)(1995.9,0.05)(1996.0,0.0)(1996.15,-0.05)(1996.35,-0.08)(1996.5,-0.12)(1996.65,-0.07)(1996.85,-0.08)(1997.0,-0.05)(1997.2,-0.02)(1997.4,0.01)(1997.6,-0.06)(1997.7,0.0)(1997.95,0.03)(1998.15,0.02)(1998.35,0.05)(1998.5,0.02)(1998.7,0.04)(1998.9,0.06)(1999.05,0.03)(1999.25,0.05)(1999.45,0.07)(1999.6,0.04)(1999.75,0.03)(1999.9,0.01)(2000.1,0.03)(2000.3,0.0)(2000.44,-0.03)(2000.6,0.01)(2000.72,0.04)(2000.85,0.0)(2001.05,0.02)(2001.2,-0.03)(2001.4,0.01)(2001.6,0.02)(2001.85,-0.04)(2002.1,-0.02)(2002.3,-0.04)(2002.5,0.0)(2002.7,0.03)(2002.86,-0.07)(2003.0,0.0)(2003.15,0.02)(2003.28,-0.02)(2003.45,-0.02)(2003.6,-0.05)(2003.8,-0.02)(2004.0,0.0)(2004.19,-0.09)(2004.35,-0.02)(2004.6,0.02)(2004.8,0.04)(2004.92,0.1)(2005.0,0.02)(2005.15,-0.03)(2005.33,-0.07)(2005.47,-0.12)(2005.65,-0.08)(2005.85,-0.09)(2006.0,-0.04)(2006.15,-0.01)(2006.3,0.02)(2006.45,-0.04)(2006.6,0.0)(2006.9,0.02)(2007.0,0.0)(2007.2,0.05)(2007.35,0.0)(2007.5,-0.04)(2007.65,0.0)(2007.9,0.05)(2008.1,0.02)(2008.3,0.03)(2008.55,0.07)(2008.7,0.01)(2008.85,-0.02)(2009.07,-0.03)(2009.25,0.0)(2009.6,0.02)(2009.9,0.04)(2010.1,0.01)(2010.4,0.02)(2010.5,-0.04)(2010.6,0.0)(2010.85,0.03)(2011.1,0.07)(2011.25,0.02)(2011.49,-0.05)(2011.6,0.0)(2011.77,-0.05)(2011.9,0.0)(2012.0,0.05)(2012.2,0.07)(2012.4,0.04)(2012.6,0.1)(2012.72,0.02)(2012.86,-0.04)(2013.0,0.0)(2013.2,0.02)(2013.35,0.04)(2013.5,0.0)(2013.62,-0.09)(2013.72,0.0)(2013.95,0.02)(2014.15,0.0)(2014.3,-0.03)(2014.45,-0.08)(2014.65,-0.06)(2014.8,-0.09)(2015.0,-0.11)(2015.15,-0.05)(2015.28,-0.01)(2015.37,0.1)(2015.43,0.0)(2015.6,0.02)(2015.75,0.05)(2015.9,0.02)(2016.1,0.0)(2016.23,-0.04)(2016.4,0.03)(2016.6,0.0)(2016.8,-0.05)(2016.95,0.04)(2017.1,0.0)(2017.4,0.02)(2017.6,0.0)(2017.74,-0.09)(2017.85,-0.02)(2018.0,0.0)}
\station{12}{Spring Bay}{-4.71}{(1990.3,0)(1990.33,-0.11)(1990.38,0.0)(1990.45,0.04)(1990.52,0.09)(1990.6,0.05)(1990.7,0.04)(1990.8,0.0)(1990.95,-0.02)(1991.05,-0.04)(1991.15,-0.03)(1991.3,0.0)(1991.4,0.04)(1991.5,0.05)(1991.6,0.03)(1991.75,0.0)(1991.95,-0.03)(1992.1,-0.02)(1992.3,0.0)(1992.5,0.01)(1992.7,-0.01)(1993.0,0.07)(1993.07,0.0)(1993.15,-0.03)(1993.3,0.04)(1993.4,0.0)(1993.55,-0.02)(1993.75,-0.08)(1993.85,0.0)(1994.0,0.03)(1994.2,0.0)(1994.35,-0.03)(1994.5,0.0)(1994.7,0.04)(1994.9,0.0)(1995.1,0.03)(1995.3,0.02)(1995.45,0.06)(1995.6,0.05)(1995.67,0.145)(1995.8,0.06)(1995.95,0.03)(1996.05,0.0)(1996.2,-0.05)(1996.4,-0.07)(1996.6,-0.12)(1996.75,-0.06)(1996.9,-0.1)(1997.0,-0.02)(1997.1,0.02)(1997.3,0.01)(1997.4,-0.09)(1997.5,0.0)(1997.7,0.06)(1997.8,0.0)(1997.9,-0.05)(1998.0,0.0)(1998.35,0.06)(1998.45,0.0)(1998.7,0.01)(1999.0,0.03)(1999.15,0.05)(1999.3,0.1)(1999.4,0.03)(1999.55,0.07)(1999.65,-0.04)(1999.75,0.0)(1999.95,0.03)(2000.2,0.0)(2000.3,-0.08)(2000.4,0.0)(2000.6,0.06)(2000.75,0.04)(2000.9,0.0)(2001.05,-0.02)(2001.2,0.06)(2001.3,0.0)(2001.6,-0.03)(2001.85,-0.05)(2002.05,-0.02)(2002.2,0.07)(2002.35,0.0)(2002.55,-0.08)(2002.65,0.0)(2002.85,0.03)(2003.0,0.0)(2003.2,-0.02)(2003.4,-0.04)(2003.55,-0.05)(2003.75,-0.03)(2003.95,-0.05)(2004.1,-0.02)(2004.24,-0.07)(2004.35,-0.01)(2004.57,0.02)(2004.7,0.03)(2004.82,0.05)(2004.9,0.16)(2004.98,0.03)(2005.15,0.02)(2005.23,0.0)(2005.33,-0.08)(2005.47,-0.11)(2005.65,-0.07)(2005.85,-0.09)(2006.0,-0.03)(2006.15,0.0)(2006.27,0.06)(2006.35,0.0)(2006.46,-0.04)(2006.55,0.0)(2006.65,0.04)(2006.84,0.03)(2006.95,0.0)(2007.15,-0.01)(2007.32,-0.03)(2007.45,0.0)(2007.7,0.01)(2007.89,0.07)(2008.0,0.02)(2008.25,0.01)(2008.45,0.08)(2008.6,0.05)(2008.69,0.08)(2008.75,0.0)(2008.9,-0.03)(2009.05,-0.01)(2009.2,-0.03)(2009.35,0.0)(2009.6,0.01)(2009.88,0.03)(2010.07,0.03)(2010.2,0.0)(2010.4,-0.01)(2010.54,-0.05)(2010.65,0.0)(2010.85,0.01)(2011.0,0.04)(2011.2,0.03)(2011.4,0.04)(2011.49,-0.05)(2011.6,0.0)(2011.8,0.01)(2011.96,0.07)(2012.06,0.05)(2012.2,0.0)(2012.4,0.03)(2012.58,0.1)(2012.7,0.02)(2012.83,0.0)(2012.91,-0.1)(2013.0,0.0)(2013.2,0.01)(2013.38,0.03)(2013.5,0.0)(2013.62,-0.1)(2013.72,0.0)(2013.95,0.02)(2014.2,0.0)(2014.35,-0.04)(2014.5,-0.07)(2014.71,-0.13)(2014.85,-0.08)(2015.05,-0.07)(2015.2,-0.02)(2015.3,0.0)(2015.37,0.13)(2015.43,0.0)(2015.55,0.04)(2015.75,0.06)(2015.95,0.05)(2016.1,0.01)(2016.23,-0.03)(2016.4,-0.05)(2016.5,-0.01)(2016.7,0.03)(2016.85,0.0)(2017.08,0.02)(2017.3,0.0)(2017.45,0.02)(2017.55,0.07)(2017.65,0.0)(2017.74,-0.1)(2017.85,-0.02)(2018.0,0.0)}
\station{13}{Port Kembla}{-5.11}{(1990.45,0)(1990.5,0.11)(1990.6,0.05)(1990.7,0.02)(1990.8,-0.03)(1990.9,-0.02)(1991.0,0.01)(1991.15,-0.02)(1991.3,0.02)(1991.4,0.06)(1991.55,0.07)(1991.65,0.04)(1991.8,0.0)(1991.95,-0.03)(1992.1,-0.04)(1992.3,-0.02)(1992.45,-0.04)(1992.65,-0.01)(1992.9,0.0)(1992.97,0.08)(1993.05,0.0)(1993.25,-0.03)(1993.45,-0.05)(1993.6,-0.03)(1993.75,-0.06)(1993.9,-0.08)(1994.0,-0.01)(1994.15,0.03)(1994.3,0.0)(1994.5,-0.05)(1994.65,0.0)(1994.9,0.03)(1995.0,-0.02)(1995.2,-0.03)(1995.4,0.0)(1995.5,0.05)(1995.65,0.04)(1995.8,0.0)(1996.0,-0.03)(1996.2,-0.05)(1996.4,-0.07)(1996.55,-0.05)(1996.75,-0.09)(1996.88,-0.03)(1996.93,-0.1)(1997.0,0.0)(1997.1,0.05)(1997.3,0.02)(1997.45,0.0)(1997.65,0.09)(1997.75,0.01)(1997.85,0.05)(1998.0,0.0)(1998.3,0.01)(1998.55,0.03)(1998.7,-0.06)(1998.85,0.0)(1999.05,0.05)(1999.25,0.02)(1999.4,0.05)(1999.6,0.03)(1999.8,0.06)(1999.95,0.02)(2000.1,0.05)(2000.25,0.0)(2000.4,0.06)(2000.55,0.05)(2000.65,0.08)(2000.77,0.12)(2000.85,0.05)(2000.95,0.08)(2001.1,0.03)(2001.2,0.0)(2001.4,-0.02)(2001.6,-0.03)(2001.8,-0.02)(2002.05,0.0)(2002.15,0.06)(2002.25,0.0)(2002.6,-0.05)(2002.7,0.0)(2002.9,0.02)(2003.1,0.0)(2003.3,0.05)(2003.4,0.0)(2003.55,-0.03)(2003.8,-0.01)(2004.0,-0.03)(2004.24,-0.09)(2004.4,-0.01)(2004.6,0.02)(2004.8,0.05)(2004.9,0.13)(2005.0,0.05)(2005.1,0.03)(2005.23,0.12)(2005.3,0.0)(2005.45,-0.04)(2005.6,-0.06)(2005.75,-0.04)(2005.9,-0.08)(2006.05,-0.02)(2006.2,0.03)(2006.4,0.02)(2006.56,0.03)(2006.7,0.0)(2006.84,-0.02)(2007.0,-0.03)(2007.2,-0.02)(2007.4,-0.03)(2007.6,-0.02)(2007.8,-0.05)(2007.93,0.06)(2008.05,0.0)(2008.25,-0.02)(2008.4,0.0)(2008.55,0.03)(2008.7,0.0)(2008.9,-0.02)(2009.17,-0.06)(2009.3,0.0)(2009.36,0.04)(2009.45,0.0)(2009.6,0.02)(2009.8,0.01)(2010.0,0.03)(2010.2,0.02)(2010.45,0.03)(2010.6,0.0)(2010.8,-0.03)(2011.0,-0.02)(2011.15,-0.03)(2011.3,0.03)(2011.4,-0.01)(2011.5,-0.04)(2011.6,0.0)(2011.9,0.01)(2012.1,0.03)(2012.3,0.07)(2012.45,0.05)(2012.6,0.06)(2012.82,0.05)(2012.95,0.0)(2013.2,-0.03)(2013.35,0.0)(2013.48,0.03)(2013.58,0.0)(2013.67,-0.05)(2013.8,0.0)(2014.05,0.01)(2014.25,0.0)(2014.4,-0.04)(2014.6,-0.03)(2014.8,-0.05)(2015.0,-0.02)(2015.15,-0.04)(2015.28,0.0)(2015.37,0.07)(2015.45,0.0)(2015.6,0.04)(2015.75,0.07)(2015.9,0.06)(2016.05,0.05)(2016.15,0.0)(2016.32,-0.04)(2016.45,0.0)(2016.6,0.05)(2016.75,0.0)(2016.9,-0.07)(2017.0,0.0)(2017.08,0.03)(2017.25,0.0)(2017.45,0.01)(2017.65,-0.06)(2017.8,-0.115)(2017.93,-0.05)(2018.0,0.0)}
\station{14}{Rosslyn Bay}{-5.51}{(1992.28,0)(1992.3,-0.08)(1992.35,0.0)(1992.5,0.01)(1992.7,0.02)(1992.9,0.03)(1993.0,0.065)(1993.1,0.03)(1993.25,0.01)(1993.4,0.05)(1993.5,0.02)(1993.65,-0.03)(1993.8,-0.02)(1993.95,-0.03)(1994.1,0.0)(1994.3,-0.02)(1994.5,0.01)(1994.7,0.02)(1994.9,0.0)(1995.0,0.01)(1995.2,0.0)(1995.5,0.01)(1995.7,0.0)(1995.85,-0.05)(1995.9,0.0)(1996.0,0.09)(1996.05,0.0)(1996.2,-0.02)(1996.4,-0.03)(1996.6,-0.04)(1996.8,-0.02)(1997.0,0.0)(1997.3,0.01)(1997.45,0.04)(1997.6,0.1)(1997.75,0.08)(1997.9,0.07)(1998.05,0.06)(1998.25,0.08)(1998.4,0.05)(1998.55,0.02)(1998.75,0.01)(1998.85,-0.03)(1998.95,0.0)(1999.1,0.01)(1999.3,0.04)(1999.45,0.01)(1999.7,0.02)(1999.95,0.01)(2000.2,0.02)(2000.4,0.0)(2000.6,0.01)(2000.85,0.0)(2001.05,-0.03)(2001.15,-0.08)(2001.25,-0.01)(2001.5,0.0)(2001.7,-0.01)(2001.95,-0.02)(2002.2,-0.01)(2002.4,0.0)(2002.6,-0.02)(2002.75,-0.06)(2002.9,-0.02)(2003.1,-0.03)(2003.3,-0.02)(2003.45,-0.04)(2003.6,-0.07)(2003.75,-0.03)(2003.9,-0.05)(2004.05,-0.02)(2004.2,-0.01)(2004.38,-0.03)(2004.55,-0.01)(2004.75,0.0)(2004.95,-0.02)(2005.15,-0.03)(2005.35,-0.02)(2005.55,-0.03)(2005.7,-0.02)(2005.85,-0.07)(2006.0,-0.12)(2006.1,-0.05)(2006.27,-0.02)(2006.45,0.0)(2006.7,-0.01)(2006.9,0.0)(2007.03,0.03)(2007.15,0.0)(2007.3,-0.05)(2007.45,-0.03)(2007.6,-0.05)(2007.75,0.0)(2007.95,-0.03)(2008.15,-0.02)(2008.35,-0.04)(2008.55,-0.07)(2008.7,-0.03)(2008.85,0.0)(2009.0,0.01)(2009.15,0.04)(2009.3,0.03)(2009.45,0.05)(2009.6,0.04)(2009.75,0.08)(2009.9,0.1)(2009.97,0.15)(2010.05,0.08)(2010.15,0.1)(2010.3,0.04)(2010.45,0.0)(2010.64,-0.02)(2010.8,0.0)(2011.0,0.01)(2011.2,0.02)(2011.4,0.0)(2011.6,0.01)(2011.8,-0.02)(2011.95,0.0)(2012.1,0.04)(2012.2,0.07)(2012.35,0.04)(2012.5,0.05)(2012.65,0.03)(2012.8,0.04)(2012.95,0.0)(2013.1,-0.01)(2013.2,-0.04)(2013.3,0.0)(2013.4,0.05)(2013.55,0.03)(2013.67,0.05)(2013.8,0.0)(2014.05,0.02)(2014.2,0.0)(2014.4,-0.03)(2014.6,-0.02)(2014.8,-0.03)(2015.05,-0.06)(2015.15,-0.01)(2015.23,0.01)(2015.35,-0.03)(2015.5,0.0)(2015.6,0.03)(2015.75,0.05)(2015.9,0.01)(2016.04,-0.02)(2016.15,0.0)(2016.23,0.08)(2016.32,0.0)(2016.5,0.05)(2016.65,0.06)(2016.8,0.01)(2016.95,0.0)(2017.1,0.04)(2017.22,0.06)(2017.35,0.04)(2017.5,0.01)(2017.65,-0.03)(2017.8,-0.02)(2017.93,-0.04)(2018.0,-0.01)}
\station{15}{Cape Ferguson}{-5.91}{(1990.7,0)(1990.75,0.04)(1990.85,0.02)(1990.95,-0.04)(1991.05,-0.08)(1991.15,-0.03)(1991.3,0.0)(1991.4,0.05)(1991.5,0.0)(1991.65,-0.03)(1991.85,-0.02)(1992.0,-0.04)(1992.15,0.02)(1992.3,-0.02)(1992.5,-0.03)(1992.66,-0.01)(1992.85,0.0)(1993.0,0.04)(1993.1,0.0)(1993.3,0.01)(1993.5,0.05)(1993.6,0.0)(1993.75,-0.05)(1993.9,-0.06)(1994.05,-0.03)(1994.2,0.0)(1994.5,0.02)(1994.65,0.03)(1994.8,0.02)(1995.0,0.01)(1995.15,-0.04)(1995.3,-0.02)(1995.5,0.0)(1995.75,0.01)(1995.9,0.0)(1996.0,0.1)(1996.05,0.0)(1996.2,-0.05)(1996.4,-0.07)(1996.6,-0.085)(1996.75,-0.04)(1996.85,-0.08)(1996.93,0.04)(1997.0,0.0)(1997.2,0.01)(1997.4,0.0)(1997.6,0.06)(1997.75,0.1)(1997.9,0.08)(1998.05,0.06)(1998.2,0.05)(1998.35,0.085)(1998.5,0.04)(1998.7,0.05)(1998.85,0.03)(1999.0,0.07)(1999.15,0.09)(1999.3,0.05)(1999.45,0.02)(1999.7,0.04)(1999.9,0.05)(2000.05,0.03)(2000.2,0.02)(2000.35,-0.04)(2000.5,0.0)(2000.6,0.03)(2000.75,0.0)(2001.0,-0.03)(2001.15,-0.06)(2001.3,-0.02)(2001.5,-0.04)(2001.65,-0.03)(2001.85,-0.02)(2002.05,-0.06)(2002.2,0.0)(2002.4,0.02)(2002.55,0.0)(2002.75,-0.05)(2002.85,-0.09)(2003.0,-0.03)(2003.2,-0.05)(2003.35,-0.07)(2003.5,-0.05)(2003.72,-0.07)(2003.9,-0.04)(2004.1,-0.02)(2004.3,-0.05)(2004.5,-0.04)(2004.7,-0.07)(2004.95,-0.07)(2005.05,-0.02)(2005.3,-0.03)(2005.5,-0.02)(2005.75,-0.03)(2005.9,-0.05)(2006.0,-0.07)(2006.05,0.0)(2006.1,0.02)(2006.25,0.0)(2006.5,0.01)(2006.8,0.0)(2007.03,0.04)(2007.15,0.0)(2007.25,-0.04)(2007.36,-0.1)(2007.5,-0.05)(2007.65,-0.06)(2007.8,-0.03)(2007.9,0.0)(2008.03,0.1)(2008.12,0.02)(2008.3,0.0)(2008.45,-0.04)(2008.6,-0.06)(2008.74,-0.03)(2008.9,0.0)(2009.12,0.05)(2009.25,0.07)(2009.4,0.08)(2009.55,0.12)(2009.7,0.1)(2009.85,0.11)(2009.97,0.145)(2010.1,0.08)(2010.25,0.1)(2010.35,0.02)(2010.5,0.0)(2010.64,-0.01)(2010.8,0.0)(2010.92,0.03)(2011.05,0.0)(2011.3,0.02)(2011.45,0.01)(2011.58,0.02)(2011.7,0.0)(2011.87,-0.02)(2012.0,0.0)(2012.15,0.03)(2012.3,0.04)(2012.45,0.03)(2012.53,0.04)(2012.65,0.0)(2012.9,0.01)(2013.05,0.0)(2013.2,-0.03)(2013.3,0.0)(2013.4,0.04)(2013.6,0.04)(2013.75,0.0)(2013.95,-0.05)(2014.1,-0.03)(2014.24,-0.05)(2014.35,-0.03)(2014.5,-0.04)(2014.7,-0.02)(2014.9,-0.05)(2015.05,-0.1)(2015.15,-0.03)(2015.28,0.02)(2015.4,0.01)(2015.47,0.02)(2015.6,0.0)(2015.8,-0.01)(2015.94,-0.05)(2016.1,-0.06)(2016.23,-0.04)(2016.32,0.03)(2016.5,0.02)(2016.7,0.03)(2016.8,0.0)(2016.9,0.07)(2017.0,0.01)(2017.18,0.04)(2017.3,0.0)(2017.5,0.01)(2017.65,-0.02)(2017.8,0.0)(2017.93,0.03)(2018.0,0.0)}
\station{16}{Thursday Island}{-6.313}{(2014.33,0)(2014.4,-0.03)(2014.55,-0.04)(2014.7,-0.05)(2014.8,-0.04)(2014.95,-0.03)(2015.05,-0.075)(2015.15,-0.02)(2015.3,-0.01)(2015.4,0.0)(2015.5,0.03)(2015.6,0.06)(2015.75,0.09)(2015.85,0.07)(2015.95,0.05)(2016.05,0.04)(2016.15,0.01)(2016.3,0.0)(2016.45,0.01)(2016.6,0.02)(2016.75,0.02)(2016.85,0.05)(2016.95,0.02)(2017.05,0.03)(2017.15,0.02)(2017.25,0.0)(2017.35,-0.03)(2017.45,-0.02)(2017.6,-0.04)(2017.75,-0.06)(2017.85,-0.07)(2017.95,-0.04)(2018.0,-0.02)}
% highlighted period
\fill[boxfill, fill opacity=0.32] (axis cs:2014.32,-0.148) rectangle (axis cs:2015.52,-6.527);
\draw[boxedge, line width=2pt] (axis cs:2014.32,-0.148) rectangle (axis cs:2015.52,-6.527);
\end{axis}
% year labels along the top
\begin{axis}[
  at={(0,0)}, anchor=south west,
  scale only axis, width=543.5pt, height=742pt,
  xmin=1989, xmax=2018.05, ymin=-6.6, ymax=0.2,
  axis x line*=top, hide y axis,
  axis line style={draw=none},
  xtick={1990,1991,...,2018}, major tick length=0pt, minor tick num=0,
  /pgf/number format/1000 sep={},
  /pgf/number format/assume math mode=true,
  xticklabel style={font=\yearfont\bfseries\fontsize{8.2}{9}\selectfont, inner sep=0.5pt, anchor=center, xshift=-2.5pt, yshift=10pt, rotate=40},
]
\end{axis}
\end{tikzpicture}
\end{document}
